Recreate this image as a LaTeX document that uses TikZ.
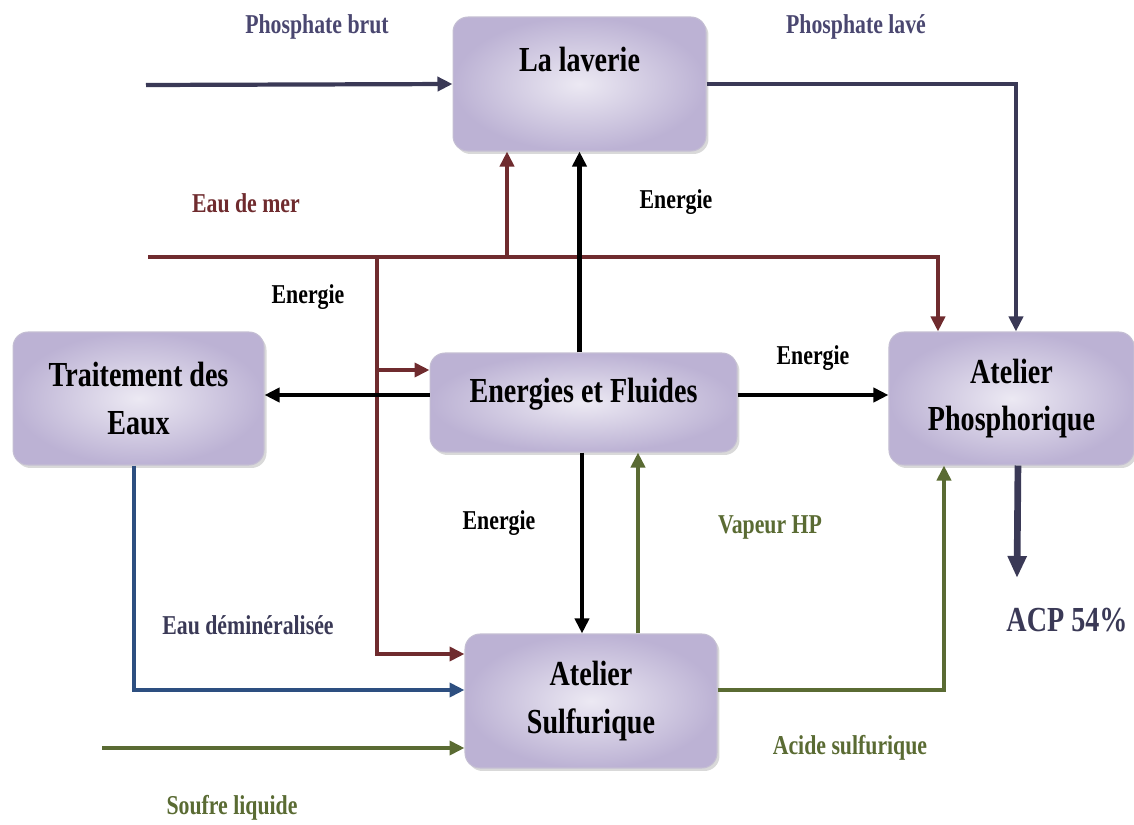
\documentclass[tikz,border=0pt]{standalone}
\usepackage{fontspec}
\setmainfont{Liberation Serif}[FakeStretch=0.8]
\usepackage{tikz}
\usetikzlibrary{arrows.meta}
\usetikzlibrary{shadows}
\usetikzlibrary{shapes,fit,calc,positioning}

\definecolor{lavclair}{HTML}{ECE9F3}
\definecolor{lavfonce}{HTML}{BCB2D4}
\definecolor{bordlav}{HTML}{C4BED3}
\definecolor{bleunuit}{HTML}{3A3956}
\definecolor{violetgris}{HTML}{4A4770}
\definecolor{brique}{HTML}{6F2B2E}
\definecolor{vertolive}{HTML}{5A6B33}
\definecolor{bleudemi}{HTML}{2D4F80}

\tikzset{
  boite/.style={rounded corners=0.3cm, draw=bordlav, line width=0.6pt, inner color=lavclair, outer color=lavfonce,
    drop shadow={opacity=0.3, shadow xshift=0.05cm, shadow yshift=-0.06cm},
    align=center, font=\fontsize{20}{27}\selectfont\bfseries},
  etiq/.style={font=\fontsize{15.5}{18}\selectfont\bfseries},
  flux/.style={line width=2.4pt, -{Triangle[length=0.3cm,width=0.28cm]}}
}

\begin{document}
\begin{tikzpicture}[x=0.02cm,y=-0.02cm]
			\useasboundingbox (0,0) rectangle (1134,825);
			% Define nodes
			\node[boite, minimum width=6.14cm, minimum height=1.98cm, text height=0.3cm, text depth=0.3cm] (ef) at (583.5,402.5) {Energies et Fluides};
			\node[boite, minimum width=5.06cm, minimum height=2.68cm, text height=0.5cm, text depth=1.0cm, above=4.02cm of ef, xshift=-0.08cm] (lav) {La laverie};
			\node[boite, minimum width=5.02cm, minimum height=2.66cm, left=3.3cm of ef, yshift=0.08cm] (te) {Traitement des\\Eaux};
			\node[boite, minimum width=4.9cm, minimum height=2.66cm, right=3.02cm of ef, yshift=0.08cm] (ap) {Atelier\\Phosphorique};
			\node[boite, minimum width=5.04cm, minimum height=2.68cm, below=3.62cm of ef, xshift=0.15cm] (as) {Atelier\\Sulfurique};
			% labels
			\node[etiq, text=violetgris] (lpb) at (317,27) {Phosphate brut};
			\node[etiq, text=violetgris] (lpl) at (856,27) {Phosphate lavé};
			\node[etiq, text=brique] (lem) at (246,203) {Eau de mer};
			\node[etiq] (le1) at (676,202) {Energie};
			\node[etiq] (le2) at (308,297) {Energie};
			\node[etiq] (le3) at (813,358) {Energie};
			\node[etiq] (le4) at (499,523) {Energie};
			\node[etiq, text=vertolive] (lvh) at (770,527) {Vapeur HP};
			\node[etiq, text=bleunuit] (led) at (248,625) {Eau déminéralisée};
			\node[etiq, text=vertolive] (las) at (850,748) {Acide sulfurique};
			\node[etiq, text=vertolive] (lsl) at (232,808) {Soufre liquide};
			\node[etiq, font=\fontsize{20}{24}\selectfont\bfseries, text=bleunuit] (acp) at (1067,620) {ACP 54\%};
			\coordinate (pb) at (146,85);
			\coordinate (em) at (148,257);
			\coordinate (j1) at (377,257);
			\coordinate (sl) at (102,748);
			\coordinate (fin) at (1017,578);
			\coordinate (b1) at ([xshift=-1.45cm]lav.south);
			\coordinate (b2) at ([yshift=0.65cm]ef.west);
			\coordinate (e1) at ([yshift=0.15cm]ef.west);
			\coordinate (e2) at ([yshift=0.15cm]ef.east);
			\coordinate (e3) at ([xshift=-0.03cm]ef.south);
			\coordinate (v1) at ([xshift=0.94cm]as.north);
			%%add edge
			\draw[flux, bleunuit] (pb) -- (lav.west);
			\draw[flux, bleunuit] (lav.east) -| ([xshift=0.09cm]ap.north);
			\draw[flux, brique] (em) -| ([xshift=-1.47cm]ap.north);
			\draw[flux, brique] (b1 |- em) -- (b1);
			\draw[flux, brique] (j1) |- ([yshift=0.94cm]as.west);
			\draw[flux, brique] (j1 |- b2) -- (b2);
			\draw[flux] (lav.south |- ef.north) -- (lav.south);
			\draw[flux] (e1) -- (e1 -| te.east);
			\draw[flux] (e2) -- (e2 -| ap.west);
			\draw[flux] (e3) -- (e3 |- as.north);
			\draw[flux, vertolive] (v1) -- (v1 |- ef.south);
			\draw[flux, bleudemi] ([xshift=-0.09cm]te.south) |- ([yshift=0.22cm]as.west);
			\draw[flux, vertolive] (sl) -- (sl -| as.west);
			\draw[flux, vertolive] ([yshift=0.22cm]as.east) -| ([xshift=-1.35cm]ap.south);
			\draw[line width=3.8pt, bleunuit, -{Triangle[length=0.44cm,width=0.36cm]}] ([xshift=0.13cm]ap.south) -- (fin);
\end{tikzpicture}
\end{document}
